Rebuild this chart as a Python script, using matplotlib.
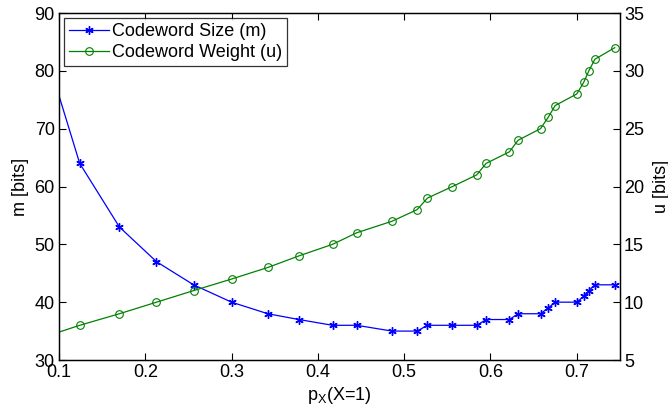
import numpy as np
import matplotlib.pyplot as plt

plt.rcParams['font.family'] = ['Liberation Sans', 'DejaVu Sans']

# probability of X=1 for each design point
p_x = [0.083, 0.124, 0.170, 0.213, 0.256, 0.300, 0.342, 0.378, 0.417, 0.445,
       0.486, 0.515, 0.527, 0.556, 0.584, 0.595, 0.622, 0.632, 0.658, 0.667,
       0.675, 0.700, 0.708, 0.714, 0.721, 0.744]
# codeword size m [bits]
m_bits = [84, 64, 53, 47, 43, 40, 38, 37, 36, 36,
          35, 35, 36, 36, 36, 37, 37, 38, 38, 39,
          40, 40, 41, 42, 43, 43]
# codeword weight u [bits]
u_bits = [7, 8, 9, 10, 11, 12, 13, 14, 15, 16,
          17, 18, 19, 20, 21, 22, 23, 24, 25, 26,
          27, 28, 29, 30, 31, 32]

fig = plt.figure(figsize=(6.68, 4.09), dpi=100)
ax1 = fig.add_axes([0.0883, 0.1198, 0.8397, 0.8484])
ax2 = ax1.twinx()

# asterisk marker: 6 spokes
l1, = ax1.plot(p_x, m_bits, color=(0, 0, 1), lw=0.9, marker=(6, 2, 0), ms=6,
               mew=1.0, label='Codeword Size (m)')
l2, = ax2.plot(p_x, u_bits, color=(0, 0.5, 0), lw=0.9, marker='o', ms=5.5,
               mfc='none', mew=0.8, label='Codeword Weight (u)')

ax1.set_xlim(0.1, 0.75)
ax1.set_ylim(30, 90)
ax2.set_ylim(5, 35)
ax1.set_xticks([0.1, 0.2, 0.3, 0.4, 0.5, 0.6, 0.7])
ax1.set_xticklabels(['0.1', '0.2', '0.3', '0.4', '0.5', '0.6', '0.7'])
ax1.set_yticks(np.arange(30, 91, 10))
ax2.set_yticks(np.arange(5, 36, 5))

ax1.tick_params(axis='both', direction='in', length=5, width=0.8,
                labelsize=13, top=True, pad=3)
ax2.tick_params(axis='y', direction='in', length=5, width=0.8,
                labelsize=13, pad=3)
for a in (ax1, ax2):
    for s in a.spines.values():
        s.set_linewidth(0.9)

ax1.set_xlabel('p$_\\mathregular{X}$(X=1)', fontsize=13, labelpad=3)
ax1.set_ylabel('m [bits]', fontsize=13, labelpad=4)
ax2.set_ylabel('u [bits]', fontsize=13, labelpad=6)

leg = ax1.legend([l1, l2], [l1.get_label(), l2.get_label()], loc='upper left',
                 fontsize=13, frameon=True, fancybox=False, borderpad=0.25,
                 labelspacing=0.25, handlelength=2.2, handletextpad=0.2,
                 borderaxespad=0.3)
leg.get_frame().set_edgecolor('black')
leg.get_frame().set_linewidth(0.9)

fig.savefig('out.png', dpi=100)
